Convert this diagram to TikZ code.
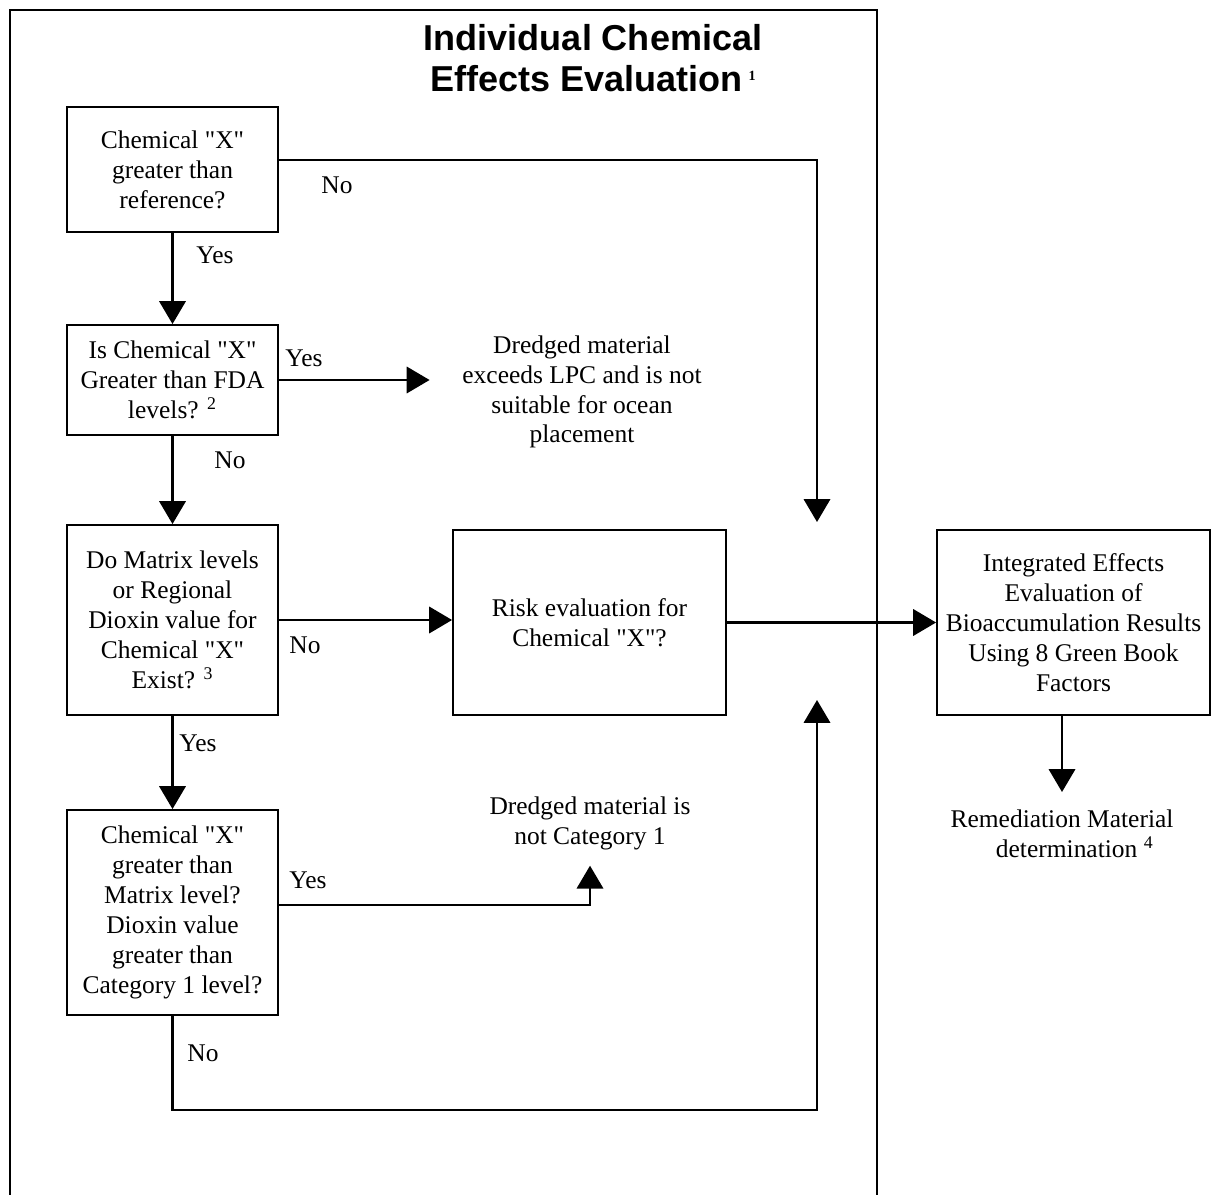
\documentclass[tikz,border=0pt]{standalone}
\usepackage{fontspec}
\setmainfont{Liberation Serif}
\newfontfamily\titlefont{Liberation Sans}
\usetikzlibrary{arrows.meta}
\newcommand\chemX{\textquotedbl X\textquotedbl}

\begin{document}
\begin{tikzpicture}[x=0.02cm,y=-0.02cm,
    chembox/.style={draw, line width=1.1pt, align=center, inner sep=2pt,
      font=\fontsize{14.5}{17}\selectfont},
    lbl/.style={align=center, font=\fontsize{14.5}{17}\selectfont},
    arr/.style={line width=1.3pt, -{Triangle[length=13pt,width=15pt]}},
    plain/.style={line width=1.1pt}]
    \useasboundingbox (0,0) rectangle (1212,1195);
    % frame round the individual evaluation
    \draw[plain] (10,1195) -- (10,10) -- (877,10) -- (877,1195);
    \node[align=center, font=\titlefont\bfseries\fontsize{20.5}{23}\selectfont] (title) at (593,58)
      {Individual Chemical\\Effects Evaluation\,\raisebox{0.55ex}{\rmfamily\fontsize{8}{8}\selectfont 1}};

    \node[chembox, minimum width=4.22cm, minimum height=2.5cm] (ref) at (172.5,169.5)
      {Chemical \chemX\\greater than\\reference?};
    \node[chembox, minimum width=4.22cm, minimum height=2.2cm] (fda) at (172.5,380)
      {Is Chemical \chemX\\Greater than FDA\\levels? \textsuperscript{2}};
    \node[chembox, minimum width=4.22cm, minimum height=3.8cm] (matrix) at (172.5,620)
      {Do Matrix levels\\or Regional\\Dioxin value for\\Chemical \chemX\\Exist? \textsuperscript{3}};
    \node[chembox, minimum width=4.22cm, minimum height=4.1cm] (cat) at (172.5,912.5)
      {Chemical \chemX\\greater than\\Matrix level?\\Dioxin value\\greater than\\Category 1 level?};
    \node[chembox, minimum width=5.46cm, minimum height=3.7cm] (risk) at (589.5,622.5)
      {Risk evaluation for\\Chemical \chemX?};
    \node[chembox, minimum width=5.46cm, minimum height=3.7cm] (integ) at (1073.5,622.5)
      {Integrated Effects\\Evaluation of\\Bioaccumulation Results\\Using 8 Green Book\\Factors};

    \node[lbl, inner xsep=0.65cm] (lpc) at (582,392)
      {Dredged material\\exceeds LPC and is not\\suitable for ocean\\placement};
    \node[lbl, inner ysep=9pt] (notcat) at (590,823)
      {Dredged material is\\not Category 1};
    \node[lbl, inner ysep=10pt, anchor=north] (remed) at (1062,792)
      {Remediation Material\\\quad determination \textsuperscript{4}};

    \coordinate (topin) at (817,522);
    \coordinate (botin) at (817,700);
    \coordinate (lowcorner) at (817,1110);

    \node[lbl] (no1) at (337,185) {No};
    \node[lbl] (yes1) at (215,255) {Yes};
    \node[lbl] (yes2) at (304,358) {Yes};
    \node[lbl] (no2) at (230,460) {No};
    \node[lbl] (no3) at (305,645) {No};
    \node[lbl] (yes3) at (198,743) {Yes};
    \node[lbl] (yes4) at (308,880) {Yes};
    \node[lbl] (no4) at (203,1053) {No};

    \draw[arr] (ref.south) -- (fda.north);
    \draw[arr] ([yshift=0.19cm]ref.east) -| (topin);
    \draw[arr] (fda.east) -- (fda.east -| lpc.west);
    \draw[arr] (fda.south) -- (matrix.north);
    \draw[arr] (matrix.east) -- (matrix.east -| risk.west);
    \draw[arr] (risk.east) -- (integ.west);
    \draw[arr] (remed.north |- integ.south) -- (remed.north);
    \draw[arr] (matrix.south) -- (cat.north);
    \draw[arr] ([yshift=0.15cm]cat.east) -| (notcat.south);
    \draw[arr] (cat.south) |- (lowcorner) -- (botin);
  \end{tikzpicture}
\end{document}
